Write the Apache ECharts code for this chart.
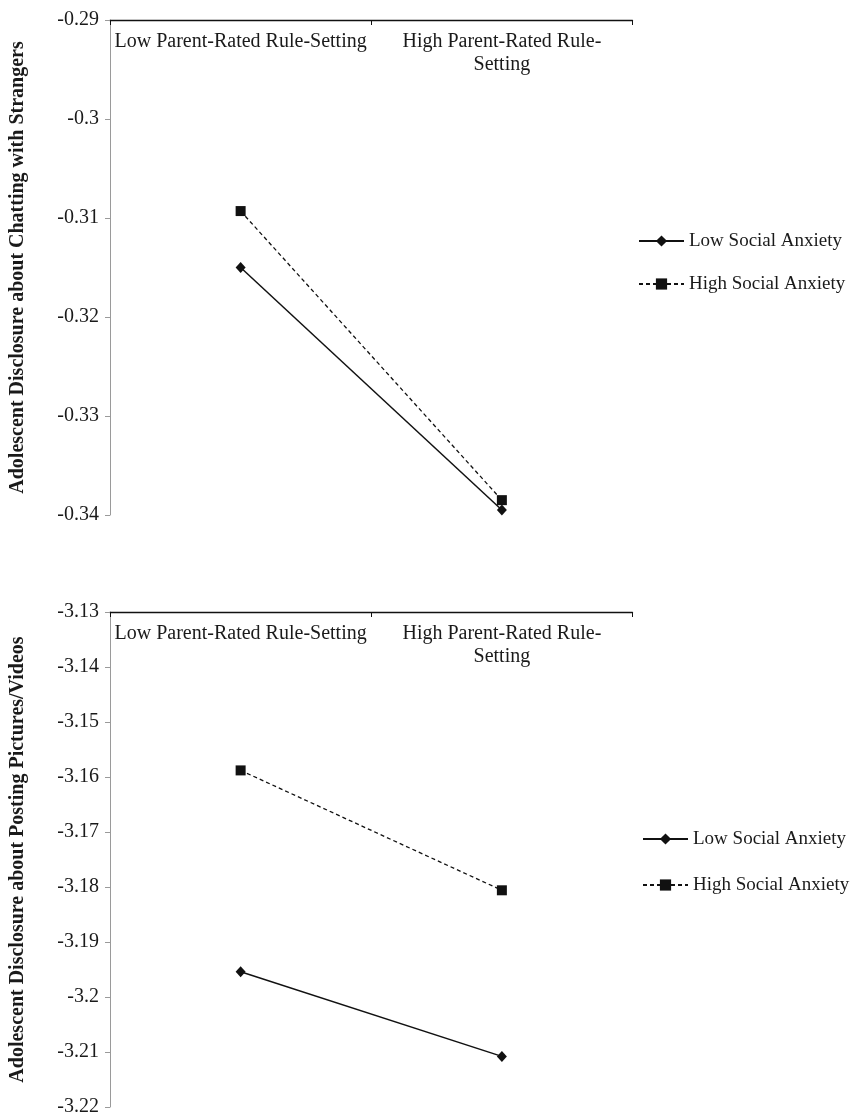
<!DOCTYPE html>
<html>
<head>
<meta charset="utf-8">
<script src="https://cdn.jsdelivr.net/npm/echarts@6/dist/echarts.min.js"></script>
<style>
html,body{margin:0;padding:0;background:#fff;}
#chart{width:856px;height:1117px;}
</style>
</head>
<body>
<div id="chart"></div>
<script>
// ---- data ----
const categories = ['Low Parent-Rated Rule-Setting', 'High Parent-Rated Rule-\nSetting'];
const seriesNames = ['Low Social Anxiety', 'High Social Anxiety'];
const chatLow = [-0.3150, -0.3395];
const chatHigh = [-0.3093, -0.3385];
const postLow = [-3.1954, -3.2108];
const postHigh = [-3.1588, -3.1806];
const chatAxis = { min: -0.34, max: -0.29, interval: 0.01 };
const postAxis = { min: -3.22, max: -3.13, interval: 0.01 };
const chatTitle = 'Adolescent Disclosure about Chatting with Strangers';
const postTitle = 'Adolescent Disclosure about Posting Pictures/Videos';

const FONT = '"Liberation Serif", "Times New Roman", serif';
const TXT = '#1a1a1a';
const INK = '#111111';

function xAxisFor(gridIndex) {
  return {
    type: 'category', gridIndex: gridIndex, data: categories, position: 'top',
    boundaryGap: true,
    axisLine: { show: true, onZero: false, lineStyle: { color: INK, width: 1.3 } },
    axisTick: { show: true, inside: true, length: 5, lineStyle: { color: INK } },
    axisLabel: { inside: true, margin: 10, fontFamily: FONT, fontSize: 20, color: TXT,
                 lineHeight: 23, verticalAlign: 'top', interval: 0 },
    splitLine: { show: false }
  };
}
function yAxisFor(gridIndex, ax, title) {
  return {
    type: 'value', gridIndex: gridIndex, min: ax.min, max: ax.max, interval: ax.interval,
    name: title, nameLocation: 'middle', nameRotate: 90, nameGap: 82,
    nameTextStyle: { fontFamily: FONT, fontSize: 20, fontWeight: 'bold', color: TXT },
    axisLine: { show: true, lineStyle: { color: '#9a9a9a', width: 1 } },
    axisTick: { show: true, inside: false, length: 5, lineStyle: { color: '#9a9a9a' } },
    axisLabel: { margin: 11, fontFamily: FONT, fontSize: 20, color: TXT },
    splitLine: { show: false }
  };
}
function lowSeries(xi, data) {
  return {
    name: seriesNames[0], type: 'line', xAxisIndex: xi, yAxisIndex: xi, data: data,
    symbol: 'diamond', symbolSize: [10, 11], showSymbol: true,
    lineStyle: { color: INK, width: 1.5, type: 'solid' },
    itemStyle: { color: INK }, animation: false, z: 3
  };
}
function highSeries(xi, data) {
  return {
    name: seriesNames[1], type: 'line', xAxisIndex: xi, yAxisIndex: xi, data: data,
    symbol: 'rect', symbolSize: 10, showSymbol: true,
    lineStyle: { color: INK, width: 1.3, type: [4, 3] },
    itemStyle: { color: INK }, animation: false, z: 3
  };
}
function legendFor(left, top, gap) {
  return {
    orient: 'vertical', left: left, top: top, itemGap: gap,
    itemWidth: 45, itemHeight: 14, data: seriesNames, selectedMode: false,
    textStyle: { fontFamily: FONT, fontSize: 19, color: TXT, lineHeight: 20 }
  };
}

const chart = echarts.init(document.getElementById('chart'), null, { renderer: 'canvas' });
chart.setOption({
  backgroundColor: '#ffffff',
  animation: false,
  grid: [
    { left: 104, top: 20, width: 528.5, height: 495 },
    { left: 104, top: 612, width: 528.5, height: 498 }
  ],
  xAxis: [xAxisFor(0), xAxisFor(1)],
  yAxis: [yAxisFor(0, chatAxis, chatTitle), yAxisFor(1, postAxis, postTitle)],
  legend: [legendFor(633, 226, 23), legendFor(637, 824, 26)],
  series: [
    lowSeries(0, chatLow), highSeries(0, chatHigh),
    lowSeries(1, postLow), highSeries(1, postHigh)
  ]
});
</script>
</body>
</html>
